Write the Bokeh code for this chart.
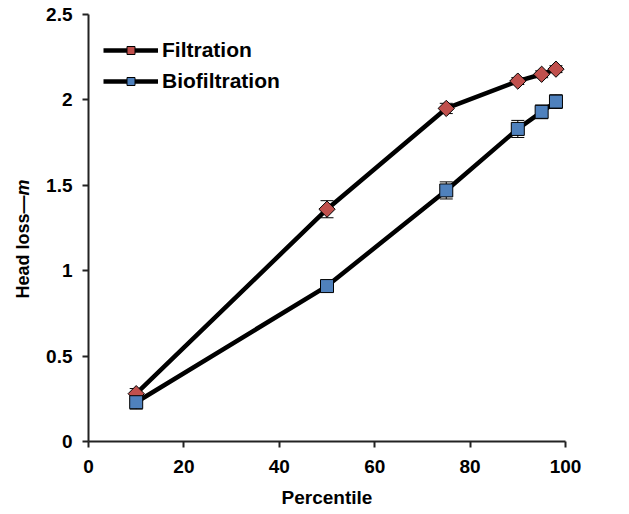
import math
from bokeh.plotting import figure
from bokeh.models import (ColumnDataSource, Range1d, FixedTicker, Whisker, TeeHead,
                          Legend, LegendItem, Label)
from bokeh.embed import file_html
from bokeh.resources import INLINE

percentile = [10, 50, 75, 90, 95, 98]
filtration = [0.28, 1.36, 1.95, 2.11, 2.15, 2.18]
filtration_err = [0.03, 0.05, 0.03, 0.02, 0.02, 0.02]
biofiltration = [0.23, 0.91, 1.47, 1.83, 1.93, 1.99]
biofiltration_err = [0.04, 0.02, 0.05, 0.05, 0.04, 0.04]

x_ticks = [0, 20, 40, 60, 80, 100]
y_ticks = [0, 0.5, 1, 1.5, 2, 2.5]
y_tick_labels = ["0", "0.5", "1", "1.5", "2", "2.5"]

FONT = "Liberation Sans"
RED = "#c0504d"
BLUE = "#4f81bd"

W, H = 629, 514
# plot area in canvas pixels: left 88, right 565, top 14, bottom 441
PX_X = (565 - 88) / 100.0
PX_Y = (441 - 14) / 2.5
# the frame covers the whole canvas; axes are placed at x=0 and y=0 with bounds
p = figure(width=W, height=H, output_backend="svg", toolbar_location=None,
           x_range=Range1d(-88 / PX_X, 100 + (W - 565) / PX_X),
           y_range=Range1d(-(H - 441) / PX_Y, 2.5 + 14 / PX_Y),
           min_border_left=0, min_border_right=0, min_border_top=0, min_border_bottom=0)
p.outline_line_color = None
p.grid.visible = False

for ax in (p.xaxis[0], p.yaxis[0]):
    ax.axis_line_width = 2
    ax.axis_line_color = "#222222"
    ax.major_tick_line_width = 2
    ax.major_tick_line_color = "#222222"
    ax.major_tick_out = 6
    ax.major_tick_in = 0
    ax.minor_tick_line_color = None
    ax.major_label_text_font = FONT
    ax.major_label_text_font_style = "bold"
    ax.major_label_text_font_size = "19px"
    ax.major_label_text_color = "black"

p.xaxis.ticker = FixedTicker(ticks=x_ticks)
p.xaxis.bounds = (0, 100)
p.xaxis.fixed_location = 0
p.xaxis.major_label_standoff = 12
p.yaxis.ticker = FixedTicker(ticks=y_ticks)
p.yaxis.bounds = (0, 2.5)
p.yaxis.fixed_location = 0
p.yaxis.major_label_overrides = {t: l for t, l in zip(y_ticks, y_tick_labels)}
p.yaxis.major_label_standoff = 10

# axis titles
p.add_layout(Label(x=326.5, y=H - 497, x_units="screen", y_units="screen",
                   text="Percentile",
                   text_font=FONT, text_font_style="bold", text_font_size="19px",
                   text_align="center", text_baseline="middle", text_color="black"))
p.add_layout(Label(x=22, y=H - 298, x_units="screen", y_units="screen",
                   text="Head loss\u2014", angle=math.pi / 2,
                   text_font=FONT, text_font_style="bold", text_font_size="18px",
                   text_align="left", text_baseline="middle", text_color="black"))
p.add_layout(Label(x=22, y=H - 298 + 103, x_units="screen", y_units="screen",
                   text="m", angle=math.pi / 2,
                   text_font=FONT, text_font_style="bold italic", text_font_size="18px",
                   text_align="left", text_baseline="middle", text_color="black"))

src_f = ColumnDataSource(dict(x=percentile, y=filtration,
                              lo=[v - e for v, e in zip(filtration, filtration_err)],
                              hi=[v + e for v, e in zip(filtration, filtration_err)]))
src_b = ColumnDataSource(dict(x=percentile, y=biofiltration,
                              lo=[v - e for v, e in zip(biofiltration, biofiltration_err)],
                              hi=[v + e for v, e in zip(biofiltration, biofiltration_err)]))

lf = p.line("x", "y", source=src_f, line_color="black", line_width=4.5)
lb = p.line("x", "y", source=src_b, line_color="black", line_width=4.5)

for src in (src_f, src_b):
    w = Whisker(base="x", upper="hi", lower="lo", source=src, dimension="height",
                line_color="black", line_width=1, level="underlay",
                upper_head=TeeHead(size=13, line_color="black", line_width=1),
                lower_head=TeeHead(size=13, line_color="black", line_width=1))
    p.add_layout(w)

mf = p.scatter("x", "y", source=src_f, marker="square", angle=math.pi / 4, size=11.5,
               fill_color=RED, line_color="black", line_width=1)
mb = p.scatter("x", "y", source=src_b, marker="square", size=13,
               fill_color=BLUE, line_color="black", line_width=1)

legend = Legend(items=[LegendItem(label="Filtration", renderers=[lf, mf]),
                       LegendItem(label="Biofiltration", renderers=[lb, mb])],
                location=(103, H - 93), border_line_color=None, background_fill_alpha=0,
                padding=0, margin=0, spacing=7, glyph_width=55, glyph_height=20,
                label_height=20, label_standoff=4,
                label_text_font=FONT, label_text_font_style="bold",
                label_text_font_size="21px", label_text_color="black")
p.add_layout(legend)

open("out.html", "w").write(file_html(p, INLINE))
